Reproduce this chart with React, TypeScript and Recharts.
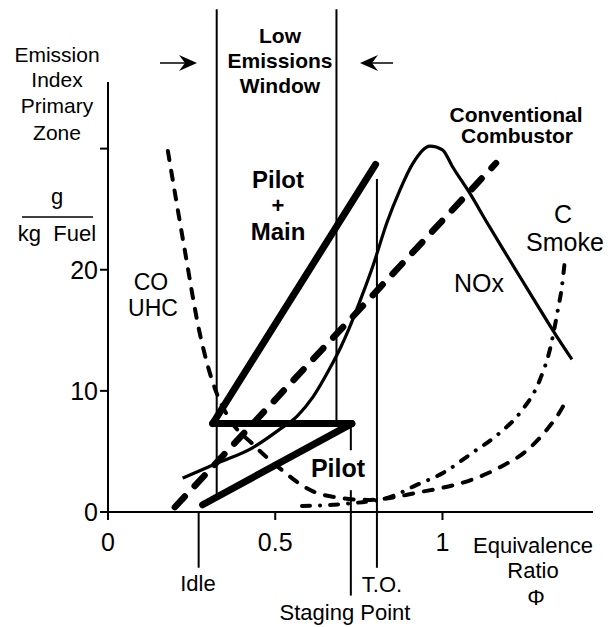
import React from 'react';
import { ComposedChart, Line, XAxis, YAxis, ReferenceLine } from 'recharts';

const FONT = '"Liberation Sans", Arial, Helvetica, sans-serif';

// Axis ticks
const phiTicks = [0, 0.5, 1];
const eiTicks = [0, 10, 20, 30];

// NOx (solid, staged combustor)
const noxPhi = [0.223, 0.324, 0.432, 0.512, 0.565, 0.613, 0.664, 0.694, 0.72, 0.76, 0.793, 0.834, 0.873, 0.912, 0.963, 1.0, 1.03, 1.082, 1.133, 1.181, 1.232, 1.283, 1.33, 1.387];
const noxEI = [2.8, 4.0, 5.3, 6.8, 7.9, 9.5, 11.9, 13.5, 15.1, 17.9, 20.4, 23.9, 26.6, 28.8, 30.2, 29.9, 28.5, 26.3, 23.9, 21.7, 19.4, 17.1, 15.0, 12.6];

// CO / UHC (dashed)
const coPhi = [0.179, 0.229, 0.274, 0.3, 0.325, 0.365, 0.433, 0.475, 0.523, 0.564, 0.613, 0.684, 0.774, 0.852, 0.924, 1.0, 1.091, 1.172, 1.253, 1.312, 1.36, 1.375];
const coEI = [29.8, 21.7, 14.8, 11.9, 9.8, 7.6, 5.6, 4.5, 3.4, 2.5, 1.7, 1.2, 1.0, 1.2, 1.6, 2.0, 2.7, 3.7, 5.1, 6.8, 8.7, 9.5];

// C smoke (dash-dot)
const smokePhi = [0.58, 0.72, 0.84, 0.92, 1.0, 1.09, 1.17, 1.232, 1.291, 1.321, 1.345, 1.357, 1.366];
const smokeEI = [0.5, 0.7, 1.2, 2.2, 3.2, 4.9, 6.5, 8.2, 10.9, 13.4, 16.7, 18.6, 20.8];

// Conventional combustor (thick dashed straight line)
const convPhi = [0.2, 1.16];
const convEI = [0.4, 28.8];

// Staged combustor: pilot, staging step, pilot + main
const pilotPhi = [0.283, 0.729];
const pilotEI = [0.6, 7.3];
const stepPhi = [0.313, 0.729];
const stepEI = [7.3, 7.3];
const pilotMainPhi = [0.313, 0.8];
const pilotMainEI = [7.3, 28.7];

// Operating-point marker lines: [phi, eiFrom, eiTo]
const markerLines: [number, number, number][] = [
  [0.271, -4.6, 0],      // Idle
  [0.325, 1.2, 41.5],    // window low edge
  [0.683, 7.3, 41.5],    // window high edge
  [0.726, 5.1, 7.3],     // staging tick
  [0.726, -6.9, 1.8],    // staging point
  [0.804, -4.6, 27.5],   // T.O.
];

const toData = (xs: number[], ys: number[]) => xs.map((phi, i) => ({ phi, ei: ys[i] }));

const noxData = toData(noxPhi, noxEI);
const coData = toData(coPhi, coEI);
const smokeData = toData(smokePhi, smokeEI);
const convData = toData(convPhi, convEI);
const pilotData = toData(pilotPhi, pilotEI);
const stepData = toData(stepPhi, stepEI);
const pilotMainData = toData(pilotMainPhi, pilotMainEI);

type TProps = { x: number; y: number; size?: number; bold?: boolean; children: React.ReactNode };
const T = ({ x, y, size = 22, bold = false, children }: TProps) => (
  <text x={x} y={y} fontSize={size} fontWeight={bold ? 700 : 400} textAnchor="middle" fontFamily={FONT} fill="#000">
    {children}
  </text>
);

const Notes = () => (
  <g>
    <T x={57} y={62} size={21}>Emission</T>
    <T x={57} y={87} size={21}>Index</T>
    <T x={57} y={113} size={21}>Primary</T>
    <T x={57} y={140} size={21}>Zone</T>
    <T x={57} y={204} size={22}>g</T>
    <line x1={22} x2={93} y1={217} y2={217} stroke="#000" strokeWidth={1.5} />
    <T x={57} y={241} size={22}>{'kg\u00a0 Fuel'}</T>

    <T x={280} y={43} size={21} bold>Low</T>
    <T x={280} y={68} size={21} bold>Emissions</T>
    <T x={280} y={93} size={21} bold>Window</T>

    <path d="M160,63 L185,63" stroke="#000" strokeWidth={1.5} />
    <path d="M197,63 L179,55 L185,63 L179,71 Z" fill="#000" />
    <path d="M372,63 L393,63" stroke="#000" strokeWidth={1.5} />
    <path d="M360,63 L378,55 L372,63 L378,71 Z" fill="#000" />

    <T x={278} y={188} size={24} bold>Pilot</T>
    <T x={278} y={213} size={22} bold>+</T>
    <T x={278} y={240} size={24} bold>Main</T>

    <T x={151} y={290} size={23}>CO</T>
    <T x={153} y={316} size={23}>UHC</T>

    <T x={516} y={122} size={21} bold>Conventional</T>
    <T x={517} y={143} size={21} bold>Combustor</T>

    <T x={563} y={223} size={25}>C</T>
    <T x={565} y={251} size={25}>Smoke</T>
    <T x={479} y={292} size={25}>NOx</T>
    <T x={338} y={477} size={25} bold>Pilot</T>

    <T x={198} y={591} size={22}>Idle</T>
    <T x={382} y={592} size={22}>T.O.</T>
    <T x={345} y={620} size={22}>Staging Point</T>
    <T x={533} y={553} size={22}>Equivalence</T>
    <T x={533} y={578} size={22}>Ratio</T>
    <T x={536} y={605} size={22}>Φ</T>
  </g>
);

export default function App() {
  return (
    <div style={{ position: 'absolute', left: 0, top: 0, background: '#fff' }}>
      <ComposedChart width={611} height={627} margin={{ top: 82, right: 18, bottom: 75, left: 48 }}>
        <XAxis
          type="number"
          dataKey="phi"
          domain={[0, 1.45]}
          ticks={phiTicks}
          allowDataOverflow
          height={40}
          tickSize={8}
          tickMargin={13}
          axisLine={{ stroke: '#000', strokeWidth: 2 }}
          tickLine={{ stroke: '#000', strokeWidth: 2 }}
          tick={{ fontSize: 25, fill: '#000', fontFamily: FONT }}
        />
        <YAxis
          type="number"
          dataKey="ei"
          domain={[0, 35.5]}
          ticks={eiTicks}
          allowDataOverflow
          width={60}
          tickSize={8}
          tickMargin={2}
          tickFormatter={(v: number) => (v === 30 ? '' : String(v))}
          axisLine={{ stroke: '#000', strokeWidth: 2 }}
          tickLine={{ stroke: '#000', strokeWidth: 2 }}
          tick={{ fontSize: 25, fill: '#000', fontFamily: FONT }}
        />
        {markerLines.map(([phi, a, b], i) => (
          <ReferenceLine
            key={i}
            segment={[{ x: phi, y: a }, { x: phi, y: b }]}
            ifOverflow="visible"
            stroke="#000"
            strokeWidth={2}
          />
        ))}
        <Line data={coData} dataKey="ei" type="monotone" stroke="#000" strokeWidth={4} strokeDasharray="9 11" strokeLinecap="round" dot={false} activeDot={false} isAnimationActive={false} />
        <Line data={smokeData} dataKey="ei" type="monotone" stroke="#000" strokeWidth={4} strokeDasharray="8 10 0.1 10" strokeLinecap="round" dot={false} activeDot={false} isAnimationActive={false} />
        <Line data={convData} dataKey="ei" type="linear" stroke="#000" strokeWidth={6.5} strokeDasharray="14.5 14.5" strokeLinecap="round" dot={false} activeDot={false} isAnimationActive={false} />
        <Line data={noxData} dataKey="ei" type="monotone" stroke="#000" strokeWidth={3.2} dot={false} activeDot={false} isAnimationActive={false} />
        <Line data={pilotData} dataKey="ei" type="linear" stroke="#000" strokeWidth={7} strokeLinecap="round" dot={false} activeDot={false} isAnimationActive={false} />
        <Line data={stepData} dataKey="ei" type="linear" stroke="#000" strokeWidth={7} strokeLinecap="round" dot={false} activeDot={false} isAnimationActive={false} />
        <Line data={pilotMainData} dataKey="ei" type="linear" stroke="#000" strokeWidth={7} strokeLinecap="round" dot={false} activeDot={false} isAnimationActive={false} />
        <Notes />
      </ComposedChart>
    </div>
  );
}
